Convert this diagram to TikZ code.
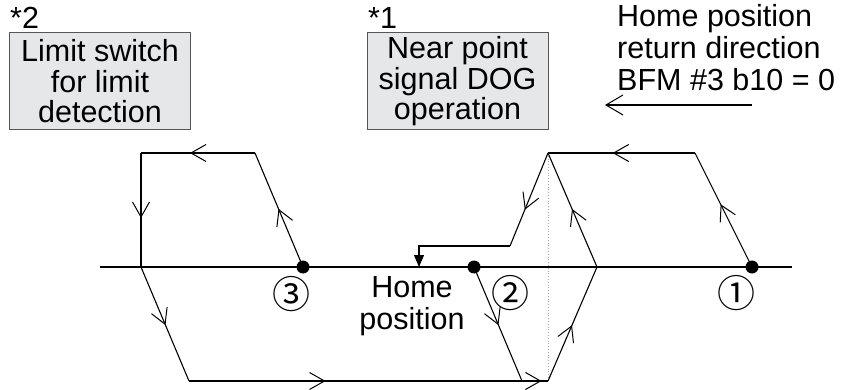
\documentclass[tikz,border=0pt]{standalone}
\usepackage{fontspec}
\setmainfont{Liberation Sans}
\newfontfamily\circfont{Noto Sans CJK JP}
\usetikzlibrary{arrows.meta,decorations.markings}
\definecolor{boxfill}{HTML}{E6E7E8}
\definecolor{boxline}{HTML}{555555}
\tikzset{
  ln/.style={line width=1.1pt, black},
  midarr/.style={postaction={decorate}, decoration={markings,
     mark=at position #1 with {\arrow{Straight Barb[length=15pt,width=17pt,line width=1pt]}}}},
  graybox/.style={draw=boxline, fill=boxfill, line width=1pt, minimum width=181pt,
     minimum height=97pt, inner sep=0pt, align=center, font=\fontsize{30.5}{30.5}\selectfont},
  lbl/.style={inner sep=0pt, font=\fontsize{30.5}{32}\selectfont},
  dot/.style={circle, fill=black, inner sep=0pt, minimum size=13pt},
  circnum/.style={inner sep=0pt, font=\circfont\fontsize{38}{38}\selectfont},
}
\begin{document}
\begin{tikzpicture}[x=1pt,y=-1pt]
\useasboundingbox (0,0) rectangle (843,390);
% boxes and labels
\node[graybox] (box2) at (100,81.5) {Limit switch\\for limit\\detection};
\node[graybox] (box1) at (457.5,81.5) {Near point\\signal DOG\\operation};
\node[lbl, anchor=base west] (star2) at (10,29) {*2};
\node[lbl, anchor=base west] (star1) at (368,29) {*1};
\node[lbl, anchor=north west, align=left] (dirtxt) at (617,4) {Home position\\return direction\\BFM \#3 b10 = 0};
\coordinate (ra1) at (752,105);
\coordinate (ra2) at (605,105);
\draw[ln, -{Straight Barb[length=17pt,width=20pt,line width=1pt]}] (ra1) -- (ra2);
% coordinates
\coordinate (ax1) at (100,267);
\coordinate (ax2) at (792,267);
\coordinate (tl) at (141,153);
\coordinate (tla) at (255,153);
\coordinate (lb) at (141,267);
\coordinate (bl) at (189,381);
\coordinate (br) at (548,381);
\coordinate (b2) at (522,381);
\coordinate (rm) at (597,267);
\coordinate (rt) at (548,153);
\coordinate (tra) at (695,153);
\coordinate (s1) at (510,246);
\coordinate (s2) at (419,246);
\coordinate (hm) at (419,267);
% dotted guide
\draw[gray!70, line width=0.8pt, dotted] (rt) -- (br);
% axis
\draw[ln] (ax1) -- (ax2);
% dots
\node[dot] (d3) at (303,267) {};
\node[dot] (d2) at (474,267) {};
\node[dot] (d1) at (752,267) {};
% paths
\draw[ln, midarr=0.51] (d3.center) -- (tla);
\draw[ln, midarr=0.57] (tla) -- (tl);
\draw[ln, midarr=0.57] (tl) -- (lb);
\draw[ln, midarr=0.51] (lb) -- (bl);
\draw[ln, midarr=0.41] (bl) -- (b2);
\draw[ln, midarr=0.51] (d2.center) -- (b2);
\draw[ln, midarr=0.75] (b2) -- (br);
\draw[ln, midarr=0.49] (br) -- (rm);
\draw[ln, midarr=0.51] (rm) -- (rt);
\draw[ln, midarr=0.55] (d1.center) -- (tra);
\draw[ln, midarr=0.56] (tra) -- (rt);
\draw[ln, midarr=0.61] (rt) -- (s1);
\draw[ln, -{Triangle[length=12pt,width=10pt]}] (s1) -- (s2) -- (hm);
% labels
\node[circnum] (n3) at (291,294) {③};
\node[circnum] (n2) at (510,293) {②};
\node[circnum] (n1) at (736,293) {①};
\node[lbl, align=center] (home) at (412,306) {Home\\position};
\end{tikzpicture}
\end{document}
